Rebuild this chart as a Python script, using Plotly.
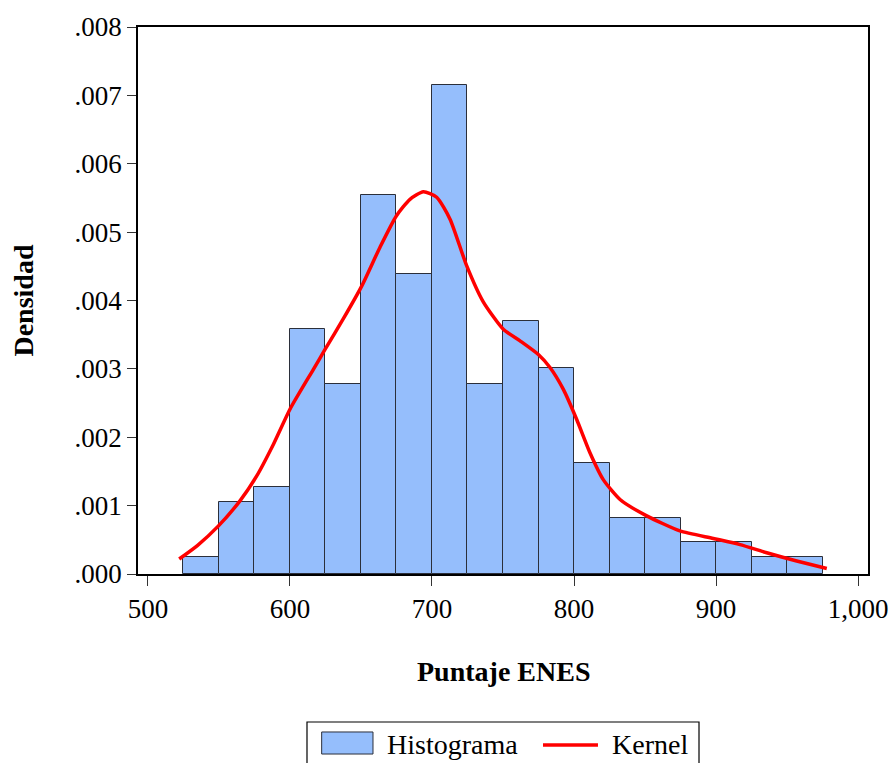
import plotly.graph_objects as go

# Histogram bins (left edges), width 25
bin_left = [525, 550, 575, 600, 625, 650, 675, 700, 725, 750, 775, 800, 825, 850, 875, 900, 925, 950]
bin_width = 25
density = [0.000252, 0.001047, 0.001277, 0.003584, 0.002775, 0.005537, 0.004385, 0.00715, 0.002775,
           0.003697, 0.003009, 0.001628, 0.000817, 0.000817, 0.000471, 0.000471, 0.000252, 0.000252]

# Kernel density curve
kernel_x = [522, 535, 549.5, 564.8, 576.5, 588.2, 600, 616.4, 624.6, 637.5, 650.5, 663.4, 675, 684.5,
            693.9, 703.3, 712.7, 724.4, 736.1, 750.2, 762, 774.9, 783.1, 792.5, 801.9, 811.3, 820.6,
            832.4, 851.2, 874.6, 898.1, 916.9, 935.7, 956.8, 978]
kernel_y = [0.00022, 0.00042, 0.0007, 0.00107, 0.00143, 0.00189, 0.00241, 0.00299, 0.00328, 0.00373,
            0.00421, 0.00478, 0.00524, 0.00548, 0.00559, 0.00551, 0.00519, 0.00451, 0.00398, 0.00358,
            0.00341, 0.00321, 0.00302, 0.0027, 0.00226, 0.00177, 0.00138, 0.00109, 0.00085, 0.00063,
            0.00052, 0.00043, 0.00031, 0.00019, 0.00008]

x_ticks = [500, 600, 700, 800, 900, 1000]
x_ticktext = ["500", "600", "700", "800", "900", "1,000"]
y_ticks = [0, 0.001, 0.002, 0.003, 0.004, 0.005, 0.006, 0.007, 0.008]
y_ticktext = [".000", ".001", ".002", ".003", ".004", ".005", ".006", ".007", ".008"]

legend_labels = ["Histograma", "Kernel"]

FONT = "Liberation Serif"
BAR_FILL = "#95BEFC"
BAR_LINE = "#2b2f3a"
KERNEL_COLOR = "#FF0000"

fig = go.Figure()
fig.add_trace(go.Bar(
    x=[b + bin_width / 2 for b in bin_left], y=density, width=[bin_width] * len(bin_left),
    name=legend_labels[0],
    marker=dict(color=BAR_FILL, line=dict(color=BAR_LINE, width=1)),
))
fig.add_trace(go.Scatter(
    x=kernel_x, y=kernel_y, mode="lines", name=legend_labels[1],
    line=dict(color=KERNEL_COLOR, width=3.5, shape="spline", smoothing=0.6),
))

# Manual legend (box partly cut by bottom edge as in reference)
shapes = [
    dict(type="rect", xref="paper", yref="paper", x0=0.2315, x1=0.7685, y0=-0.37, y1=-0.2706,
         line=dict(color="black", width=1.2), fillcolor="rgba(0,0,0,0)", layer="above"),
    dict(type="rect", xref="paper", yref="paper", x0=0.2516, x1=0.3219, y0=-0.3291, y1=-0.2888,
         line=dict(color=BAR_LINE, width=1), fillcolor=BAR_FILL, layer="above"),
    dict(type="line", xref="paper", yref="paper", x0=0.5548, x1=0.6301, y0=-0.3126, y1=-0.3126,
         line=dict(color=KERNEL_COLOR, width=3.5), layer="above"),
]

fig.update_layout(
    width=892, height=763,
    margin=dict(l=138, r=24, t=27, b=189, autoexpand=False),
    paper_bgcolor="white", plot_bgcolor="white",
    font=dict(family=FONT, size=27, color="black"),
    bargap=0,
    showlegend=False,
    shapes=shapes,
    xaxis=dict(
        range=[493, 1007], tickvals=x_ticks, ticktext=x_ticktext,
        showgrid=False, zeroline=False, showline=True, linecolor="black", linewidth=1.5,
        mirror=True, ticks="outside", ticklen=10, tickcolor="#333", tickwidth=1,
        tickfont=dict(family=FONT, size=27),
    ),
    yaxis=dict(
        range=[0, 0.008], tickvals=y_ticks, ticktext=y_ticktext,
        showgrid=False, zeroline=False, showline=True, linecolor="black", linewidth=1.5,
        mirror=True, ticks="outside", ticklen=9, tickcolor="#333", tickwidth=1,
        tickfont=dict(family=FONT, size=27),
    ),
    annotations=[
        dict(text="<b>Puntaje ENES</b>", xref="paper", yref="paper", x=0.5, y=-0.179,
             xanchor="center", yanchor="middle", showarrow=False, font=dict(family=FONT, size=28)),
        dict(text="<b>Densidad</b>", xref="paper", yref="paper", x=-0.1575, y=0.5,
             xanchor="center", yanchor="middle", showarrow=False, textangle=-90,
             font=dict(family=FONT, size=28)),
        dict(text=legend_labels[0], xref="paper", yref="paper", x=0.3384, y=-0.3126,
             xanchor="left", yanchor="middle", showarrow=False, font=dict(family=FONT, size=28)),
        dict(text=legend_labels[1], xref="paper", yref="paper", x=0.6466, y=-0.3126,
             xanchor="left", yanchor="middle", showarrow=False, font=dict(family=FONT, size=28)),
    ],
)

fig.write_html("out.html")
